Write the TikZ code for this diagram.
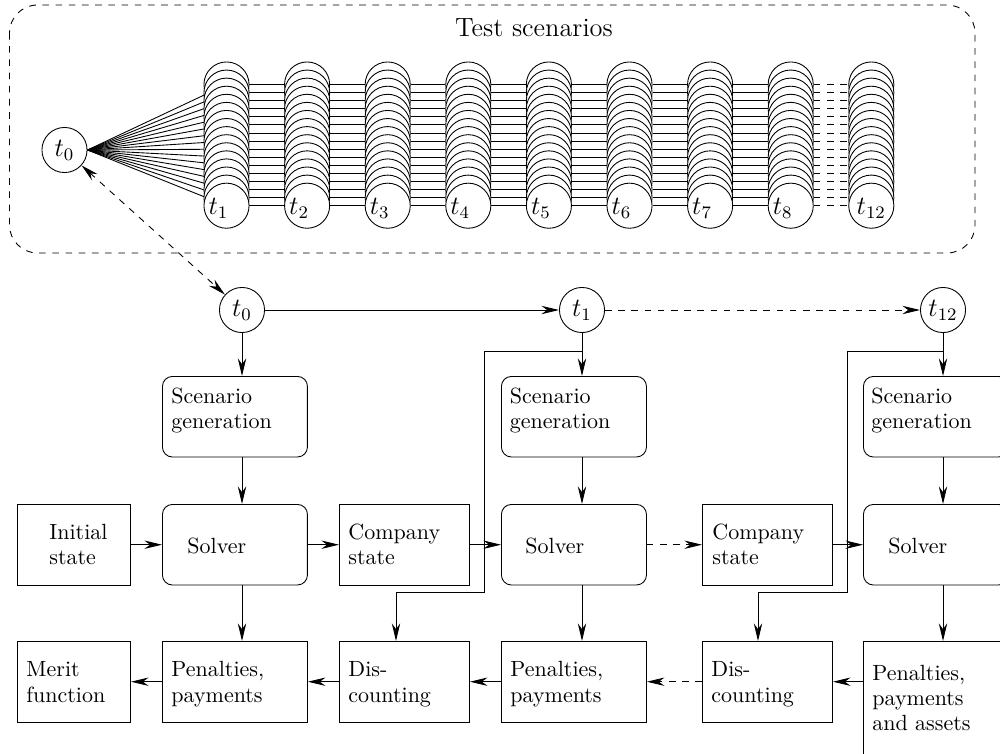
\documentclass[tikz,border=0pt]{standalone}
\usetikzlibrary{arrows.meta,backgrounds}
\begin{document}
\begin{tikzpicture}[x=0.4545pt,y=-0.4545pt,
  arr/.style={-{Stealth[length=8pt,width=3.8pt,inset=2.6pt]}},
  arrboth/.style={{Stealth[length=8pt,width=3.8pt,inset=2.6pt]}-{Stealth[length=8pt,width=3.8pt,inset=2.6pt]}},
  box/.style={draw,anchor=north west,inner sep=0pt,minimum height=36.6pt},
  rbox/.style={box,rounded corners=4.5pt},
  wA/.style={minimum width=65.9pt},
  wB/.style={minimum width=51.4pt},
  wC/.style={minimum width=59.1pt},
  lbl/.style={anchor=base west,align=left,inner sep=0pt,font=\fontsize{10}{11.4}\selectfont},
  tc/.style={draw,circle,fill=white,minimum size=20.5pt,inner sep=0pt,font=\large}]
\useasboundingbox (0,0) rectangle (1000,753);

% frame of the test scenarios
\draw[dashed,rounded corners=12.7pt] (9.5,5) rectangle (975,253);
\node[font=\large,anchor=base] (title) at (534,36) {Test scenarios};

% top: scenario tree
\node[tc] (t0a) at (64.5,150) {$t_0$};
\foreach \lab/\dx [count=\c] in {1/-8,2/-8,3/-8,4/-8,5/-8,6/-8,7/-8,8/-8,12/0} {
  \pgfmathsetmacro\xx{226.5+80.6*(\c-1)}
  \foreach \k in {0,...,15} {
    \node[tc] (c\c-\k) at (\xx,{84.5+8.08*\k}) {};
  }
  \node[font=\large,inner sep=0pt] (l\c) at ({\xx+\dx},208) {$t_{\lab}$};
}
\begin{pgfonlayer}{background}
  \foreach \k in {0,...,15} { \draw (t0a.east) -- (c1-\k.center); }
  \foreach \c [evaluate=\c as \n using int(\c+1)] in {1,...,7} {
    \foreach \k in {0,...,15} { \draw (c\c-\k.east) -- (c\n-\k.west); }
  }
  \foreach \k in {0,...,15} { \draw[dashed] (c8-\k.east) -- (c9-\k.west); }
\end{pgfonlayer}

% time line
\node[tc] (t0b) at (242,310) {$t_0$};
\node[tc] (t1b) at (582,310) {$t_1$};
\node[tc] (t12b) at (943,310) {$t_{12}$};
\draw[dashed,arrboth] (t0a) -- (t0b);
\draw[arr] (t0b) -- (t1b);
\draw[arr,dashed] (t1b) -- (t12b);

% boxes
\node[rbox,wA] (sg1) at (162,376) {};
\node[rbox,wA] (sv1) at (162,504) {};
\node[box,wB] (init) at (17,504) {};
\node[box,wC] (cs1) at (339,504) {};
\node[box,wB] (merit) at (17,641) {};
\node[box,wA] (pp1) at (162,641) {};
\node[box,wC] (dc1) at (339,641) {};
\node[rbox,wA] (sg2) at (501,376) {};
\node[rbox,wA] (sv2) at (501,504) {};
\node[box,wC] (cs2) at (702,504) {};
\node[box,wA] (pp2) at (501,641) {};
\node[box,wC] (dc2) at (702,641) {};
\node[rbox,wA] (sg3) at (863,376) {};
\node[rbox,wA] (sv3) at (863,504) {};
\node[box,wA,minimum height=58pt] (pp3) at (863,641) {};

% texts (anchor = baseline of the last line)
\node[lbl] (sg1t) at (171,428.3) {Scenario\\generation};
\node[lbl] (sv1t) at (187,553.3) {Solver};
\node[lbl] (initt) at (49,564.5) {Initial\\state};
\node[lbl] (cs1t) at (348,564.5) {Company\\state};
\node[lbl] (meritt) at (26,702) {Merit\\function};
\node[lbl] (pp1t) at (171,702) {Penalties,\\payments};
\node[lbl] (dc1t) at (348,702) {Dis-\\counting};
\node[lbl] (sg2t) at (509.5,428.3) {Scenario\\generation};
\node[lbl] (sv2t) at (525,553.3) {Solver};
\node[lbl] (cs2t) at (712,564.5) {Company\\state};
\node[lbl] (pp2t) at (510,702) {Penalties,\\payments};
\node[lbl] (dc2t) at (711,702) {Dis-\\counting};
\node[lbl] (sg3t) at (871,428.3) {Scenario\\generation};
\node[lbl] (sv3t) at (888,553.3) {Solver};
\node[lbl] (pp3t) at (872,730.8) {Penalties,\\payments\\and assets};

% vertical flow
\draw[arr] (t0b) -- (t0b |- sg1.north);
\draw[arr] (sg1.south -| t0b) -- (sv1.north -| t0b);
\draw[arr] (sv1.south -| t0b) -- (pp1.north -| t0b);
\draw[arr] (t1b) -- (t1b |- sg2.north);
\draw[arr] (sg2.south -| t1b) -- (sv2.north -| t1b);
\draw[arr] (sv2.south -| t1b) -- (pp2.north -| t1b);
\draw[arr] (t12b) -- (t12b |- sg3.north);
\draw[arr] (sg3.south -| t12b) -- (sv3.north -| t12b);
\draw[arr] (sv3.south -| t12b) -- (pp3.north -| t12b);

% horizontal flow
\draw[arr] (init) -- (sv1);
\draw[arr] (sv1) -- (cs1);
\draw[arr] (cs1) -- (sv2);
\draw[arr,dashed] (sv2) -- (cs2);
\draw[arr] (cs2) -- (sv3);
\draw[arr] (pp1) -- (merit);
\draw[arr] (dc1) -- (pp1);
\draw[arr] (pp2) -- (dc1);
\draw[arr,dashed] (dc2) -- (pp2);
\draw[arr] (pp3.west |- dc2) -- (dc2);

% time to discounting
\coordinate (j1) at (582,351);
\coordinate (k1) at (484,592);
\coordinate (d1) at (396,0);
\draw[arr] (j1) -| (k1) -| (d1 |- dc1.north);
\coordinate (j2) at (943,351);
\coordinate (k2) at (847,592);
\coordinate (d2) at (758,0);
\draw[arr] (j2) -| (k2) -| (d2 |- dc2.north);
\end{tikzpicture}
\end{document}
